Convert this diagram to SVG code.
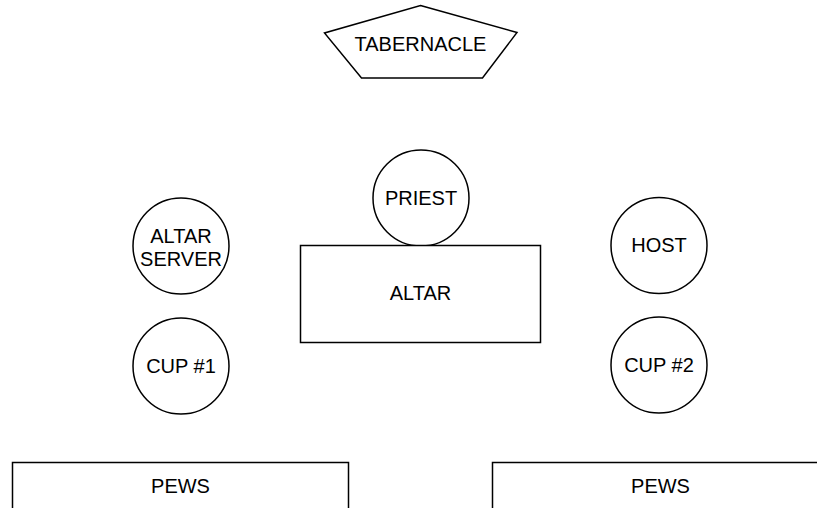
<svg xmlns="http://www.w3.org/2000/svg" width="817" height="508" viewBox="0 0 817 508">
<style>
.s{fill:#fff;stroke:#000;stroke-width:1.5}
.t{font-family:"Liberation Sans",Arial,sans-serif;font-size:20px;fill:#000;text-anchor:middle}
</style>
<rect width="817" height="508" fill="#fff"/>
<g id="tabernacle">
<polygon class="s" points="420.5,5.5 517,32.5 482.5,78 361.5,78 324.5,33"/>
<text class="t" x="420.5" y="51">TABERNACLE</text>
</g>
<g id="priest">
<circle class="s" cx="421" cy="198" r="48"/>
<text class="t" x="421" y="204.5">PRIEST</text>
</g>
<g id="altar">
<rect class="s" x="300.5" y="245.5" width="240" height="97"/>
<text class="t" x="420.5" y="300">ALTAR</text>
</g>
<g id="altar-server">
<circle class="s" cx="181" cy="246" r="48"/>
<text class="t" x="181" y="243">ALTAR</text>
<text class="t" x="181" y="265.5">SERVER</text>
</g>
<g id="cup1">
<circle class="s" cx="181" cy="366" r="48"/>
<text class="t" x="181" y="372.5">CUP #1</text>
</g>
<g id="host">
<circle class="s" cx="659" cy="245.5" r="48"/>
<text class="t" x="659" y="252">HOST</text>
</g>
<g id="cup2">
<circle class="s" cx="659" cy="365" r="48"/>
<text class="t" x="659" y="372">CUP #2</text>
</g>
<g id="pews-left">
<rect class="s" x="12.5" y="462.5" width="336" height="60"/>
<text class="t" x="180.5" y="493">PEWS</text>
</g>
<g id="pews-right">
<rect class="s" x="492.5" y="462.5" width="336" height="60"/>
<text class="t" x="660.5" y="493">PEWS</text>
</g>
<g id="connectors"></g>
</svg>
